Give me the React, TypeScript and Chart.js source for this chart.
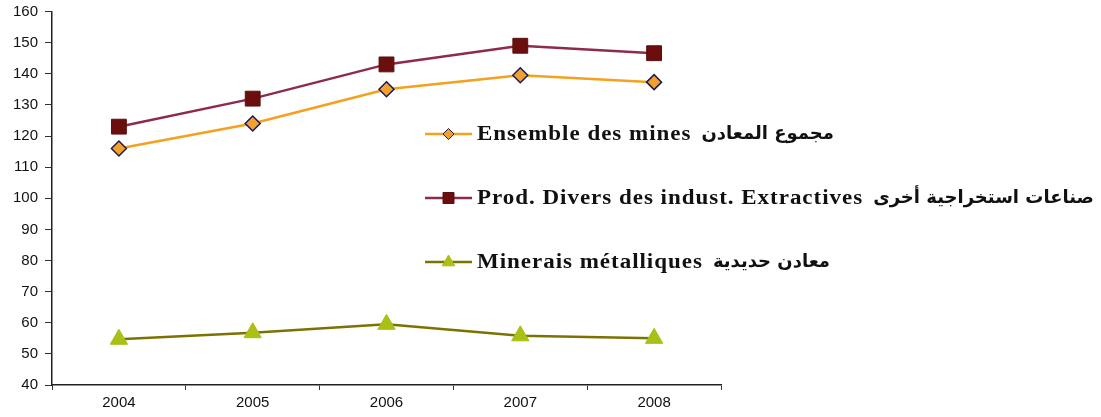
import React, { useEffect, useRef } from "react";
import { Chart, registerables } from "chart.js";

Chart.register(...registerables);

const years = ["2004", "2005", "2006", "2007", "2008"];
const ensembleMines = [116, 124, 135, 139.5, 137.3];
const prodDivers = [123, 132, 143, 149, 146.6];
const mineraisMetalliques = [54.7, 56.8, 59.5, 55.8, 55];

const frLabels = ["Ensemble des mines", "Prod. Divers des indust. Extractives", "Minerais métalliques"];
const arLabels = ["مجموع المعادن", "صناعات استخراجية أخرى", "معادن حديدية"];

const yTicks = { min: 40, max: 160, step: 10 };

const legendPlugin = {
  id: "customLegend",
  afterDraw(chart: any) {
    const ctx = chart.ctx as CanvasRenderingContext2D;
    const rows = [134, 198, 262];
    const lineX0 = 425;
    const lineX1 = 472;
    const textX = 477;
    const sx = 1.15;
    chart.data.datasets.forEach((ds: any, i: number) => {
      const y = rows[i];
      ctx.save();
      ctx.strokeStyle = ds.borderColor;
      ctx.lineWidth = 2.5;
      ctx.beginPath();
      ctx.moveTo(lineX0, y);
      ctx.lineTo(lineX1, y);
      ctx.stroke();
      const mx = (lineX0 + lineX1) / 2;
      ctx.fillStyle = ds.pointBackgroundColor;
      ctx.strokeStyle = ds.pointBorderColor;
      ctx.lineWidth = 1;
      ctx.beginPath();
      if (ds.pointStyle === "rectRot") {
        const r = 5.5;
        ctx.moveTo(mx, y - r);
        ctx.lineTo(mx + r, y);
        ctx.lineTo(mx, y + r);
        ctx.lineTo(mx - r, y);
        ctx.closePath();
      } else if (ds.pointStyle === "rect") {
        const h = 5.5;
        ctx.rect(mx - h, y - h, 2 * h, 2 * h);
      } else {
        const r = 7;
        ctx.moveTo(mx, y - r);
        ctx.lineTo(mx + r * 0.9, y + r * 0.55);
        ctx.lineTo(mx - r * 0.9, y + r * 0.55);
        ctx.closePath();
      }
      ctx.fill();
      ctx.stroke();

      ctx.fillStyle = "#111";
      ctx.textBaseline = "middle";
      ctx.textAlign = "left";
      ctx.font = 'bold 20px "Liberation Serif"';
      (ctx as any).letterSpacing = "0.85px";
      const w = ctx.measureText(frLabels[i]).width * sx;
      ctx.save();
      ctx.translate(textX, y + 1);
      ctx.scale(sx, 1);
      ctx.fillText(frLabels[i], 0, 0);
      ctx.restore();
      (ctx as any).letterSpacing = "0px";
      ctx.font = 'bold 18px "DejaVu Sans"';
      ctx.fillText(arLabels[i], textX + w + 10, y);
      ctx.restore();
    });
  },
};

export default function App() {
  const ref = useRef<HTMLCanvasElement>(null);
  useEffect(() => {
    if (!ref.current) return;
    const chart = new Chart(ref.current, {
      type: "line",
      data: {
        labels: years,
        datasets: [
          {
            label: frLabels[0],
            data: ensembleMines,
            borderColor: "#F5A01E",
            backgroundColor: "#F5A01E",
            pointBackgroundColor: "#F2A12A",
            pointBorderColor: "#1E1A55",
            pointBorderWidth: 1.5,
            pointStyle: "rectRot",
            pointRadius: 7.5,
            borderWidth: 2.5,
          },
          {
            label: frLabels[1],
            data: prodDivers,
            borderColor: "#8E2A4C",
            backgroundColor: "#8E2A4C",
            pointBackgroundColor: "#6A0E0E",
            pointBorderColor: "#5A1010",
            pointBorderWidth: 1,
            pointStyle: "rect",
            pointRadius: 10.5,
            borderWidth: 2.5,
          },
          {
            label: frLabels[2],
            data: mineraisMetalliques,
            borderColor: "#7A7300",
            backgroundColor: "#7A7300",
            pointBackgroundColor: "#A9C015",
            pointBorderColor: "#A9C015",
            pointBorderWidth: 1,
            pointStyle: "triangle",
            pointRadius: 10,
            borderWidth: 2.5,
          },
        ],
      },
      options: {
        animation: false,
        responsive: false,
        maintainAspectRatio: false,
        layout: { padding: { top: 10, right: 380, left: 0, bottom: 0 } },
        plugins: { legend: { display: false }, tooltip: { enabled: false } },
        scales: {
          x: {
            offset: true,
            grid: { offset: true, drawOnChartArea: false, tickLength: 5, color: "#333" },
            border: { display: true, color: "#222", width: 1.5 },
            ticks: { color: "#111", font: { family: "Liberation Sans", size: 15 }, padding: 4 },
            afterFit: (s: any) => { s.height = 32; },
          },
          y: {
            min: yTicks.min,
            max: yTicks.max,
            ticks: { stepSize: yTicks.step, color: "#111", font: { family: "Liberation Sans", size: 15 }, padding: 7 },
            grid: { drawOnChartArea: false, tickLength: 7, color: "#333" },
            border: { display: true, color: "#222", width: 1.5 },
            afterFit: (s: any) => { s.width = 52; s.paddingTop = 0; s.paddingBottom = 0; },
          },
        },
      },
      plugins: [legendPlugin],
    });
    return () => chart.destroy();
  }, []);
  return (
    <div style={{ position: "fixed", left: 0, top: 0, width: 1101, height: 417, background: "#fff" }}>
      <canvas ref={ref} width={1101} height={417} />
    </div>
  );
}
